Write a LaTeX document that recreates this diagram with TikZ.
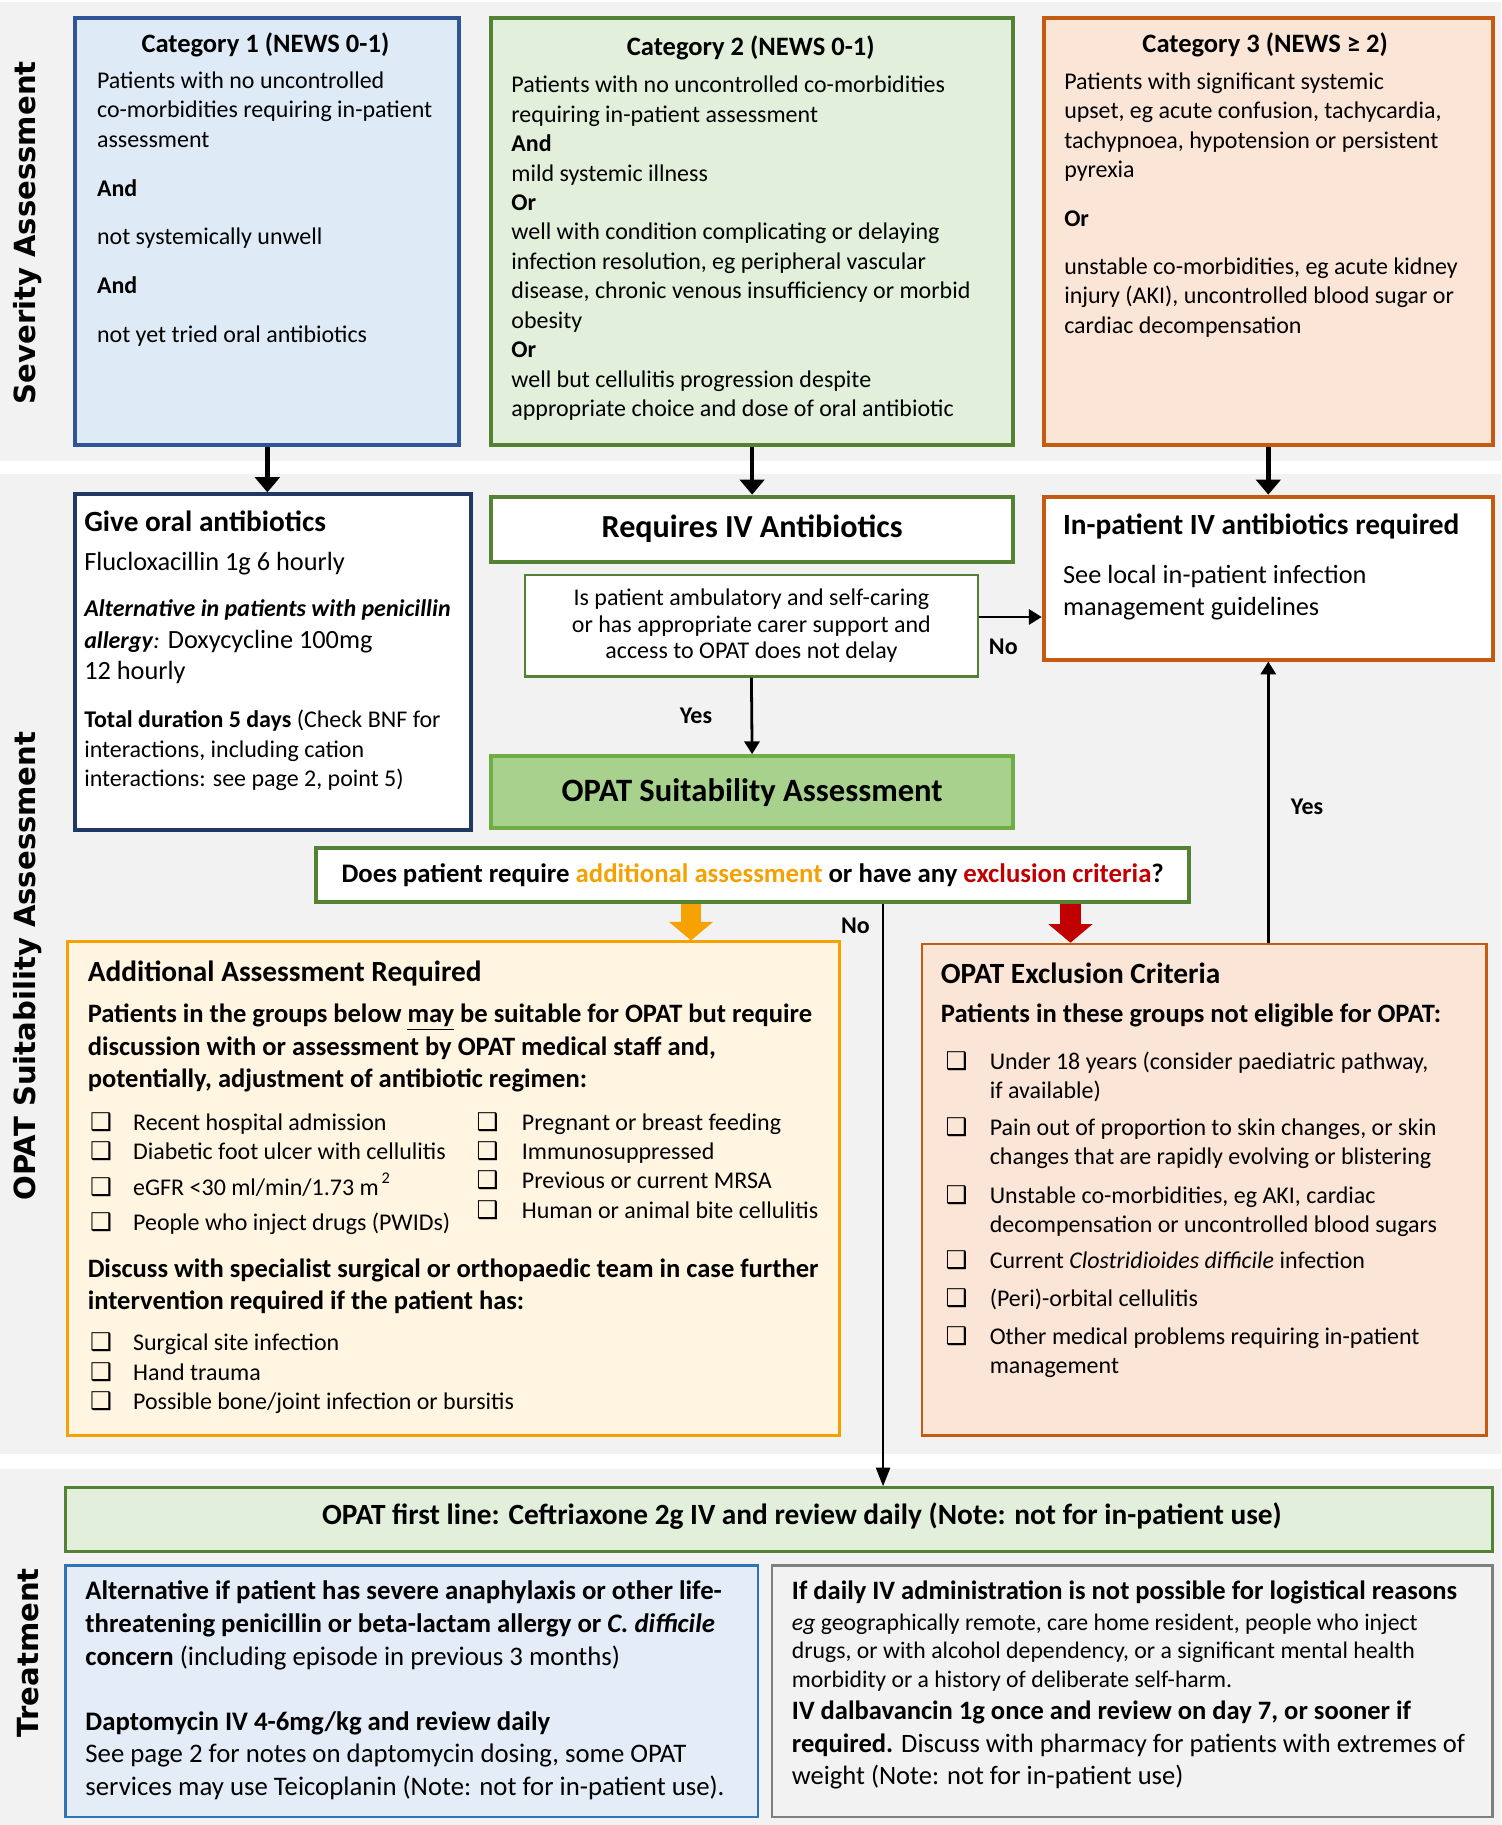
\documentclass[tikz,border=0pt]{standalone}
\usepackage{fontspec}
\setmainfont{Carlito}
\newfontfamily\sidefont{DejaVu Sans}
\newfontfamily\symfont{DejaVu Sans}
\usetikzlibrary{arrows.meta}

\definecolor{bggray}{HTML}{F2F2F2}
\definecolor{catblue}{HTML}{2F5597}
\definecolor{catbluefill}{HTML}{DEEBF7}
\definecolor{navy}{HTML}{1F3864}
\definecolor{leafgreen}{HTML}{548235}
\definecolor{leaffill}{HTML}{E2EFDA}
\definecolor{suitgreen}{HTML}{70AD47}
\definecolor{suitfill}{HTML}{A9D18E}
\definecolor{rust}{HTML}{C55A11}
\definecolor{rustfill}{HTML}{FBE5D6}
\definecolor{amber}{HTML}{F5A100}
\definecolor{amberfill}{HTML}{FFF5E1}
\definecolor{alertred}{HTML}{C00000}
\definecolor{skyblue}{HTML}{2E75B6}
\definecolor{skyfill}{HTML}{E4ECF7}
\definecolor{stone}{HTML}{7F7F7F}

\newcommand\chkbox{{\symfont\fontsize{10.5}{10.5}\selectfont ❑}}

\tikzset{
	box/.style = {rectangle, line width = 1.7pt, inner sep = 0pt, anchor = north west},
	thinbox/.style = {box, line width = 1.1pt},
	txt/.style = {inner sep = 0pt, align = left, anchor = north west},
	side/.style = {rotate = 90, font = \sidefont\bfseries\fontsize{12.5}{15}\selectfont},
	lbl/.style = {font = \bfseries\fontsize{10.3}{12}\selectfont},
	bigarrow/.style = {line width = 2pt, -{Triangle[width = 10.5pt, length = 6.5pt]}},
	midarrow/.style = {line width = 1.2pt, -{Triangle[width = 6.5pt, length = 5.5pt]}},
	thinarrow/.style = {line width = 1pt, -{Triangle[width = 6pt, length = 8pt]}},
	blockarrow/.style = {line width = 9pt, -{Triangle[width = 18.5pt, length = 8pt]}}
}

\begin{document}
\begin{tikzpicture}[x = 0.5pt, y = -0.5pt]
		\useasboundingbox (0,0) rectangle (1290,1568);
		\fill [white] (0,0) rectangle (1290,1568);
		\fill [bggray] (0,2) rectangle (1290,396);
		\fill [bggray] (0,407) rectangle (1290,1249);
		\fill [bggray] (0,1262) rectangle (1290,1568);
		
		\node [side] (sevlabel) at (24,200) {Severity Assessment};
		\node [side] (opatlabel) at (24,830) {OPAT Suitability Assessment};
		\node [side] (treatlabel) at (24,1420) {Treatment};
		
		\node [box, draw = catblue, fill = catbluefill, minimum width = 165pt, minimum height = 183.5pt] (cat1) at (63,14) {};
		\node [box, draw = leafgreen, fill = leaffill, minimum width = 224.5pt, minimum height = 183.5pt] (cat2) at (420,14) {};
		\node [box, draw = rust, fill = rustfill, minimum width = 193pt, minimum height = 183.5pt] (cat3) at (895,14) {};
		
		\node [font = \bfseries\fontsize{11.4}{13}\selectfont] (cat1title) at (228,39) {Category 1 (NEWS 0-1)};
		\node [txt, font = \fontsize{10.3}{12.75}\selectfont] (cat1text) at (83,61) {Patients with no uncontrolled\\ co-morbidities requiring in-patient\\ assessment\\[8.2pt] \textbf{And}\\[8pt] not systemically unwell\\[8.2pt] \textbf{And}\\[8.2pt] not yet tried oral antibiotics};
		
		\node [font = \bfseries\fontsize{11.4}{13}\selectfont] (cat2title) at (645,41) {Category 2 (NEWS 0-1)};
		\node [txt, font = \fontsize{10.3}{12.64}\selectfont] (cat2text) at (439,65) {Patients with no uncontrolled co-morbidities\\ requiring in-patient assessment\\ \textbf{And}\\ mild systemic illness\\ \textbf{Or}\\ well with condition complicating or delaying\\ infection resolution, eg peripheral vascular\\ disease, chronic venous insufficiency or morbid\\ obesity\\ \textbf{Or}\\ well but cellulitis progression despite\\ appropriate choice and dose of oral antibiotic};
		
		\node [font = \bfseries\fontsize{11.4}{13}\selectfont] (cat3title) at (1087,39) {Category 3 (NEWS ≥ 2)};
		\node [txt, font = \fontsize{10.3}{12.65}\selectfont] (cat3text) at (914,62) {Patients with significant systemic\\ upset, eg acute confusion, tachycardia,\\ tachypnoea, hypotension or persistent\\ pyrexia\\[8.3pt] \textbf{Or}\\[8pt] unstable co-morbidities, eg acute kidney\\ injury (AKI), uncontrolled blood sugar or\\ cardiac decompensation};
		
		\node [box, draw = navy, fill = white, minimum width = 170pt, minimum height = 144pt] (oral) at (63,423) {};
		\node [txt, anchor = west, font = \bfseries\fontsize{12.6}{15}\selectfont] (oraltitle) at (72,448) {Give oral antibiotics};
		\node [txt, anchor = west, font = \fontsize{11.3}{13.5}\selectfont] (oraldrug) at (72,484) {Flucloxacillin 1g 6 hourly};
		\node [txt, font = \fontsize{11.3}{13.5}\selectfont] (oralalt) at (72,515) {{\fontsize{10.3}{13.5}\selectfont\bfseries\itshape Alternative in patients with penicillin}\\ {\fontsize{10.3}{13.5}\selectfont\textbf{\textit{allergy}}\textit{:}} Doxycycline 100mg\\ 12 hourly};
		\node [txt, font = \fontsize{10.3}{12.5}\selectfont] (oraltotal) at (72,610) {\textbf{Total duration 5 days} (Check BNF for\\ interactions, including cation\\ interactions: see page 2, point 5)};
		
		\node [box, draw = leafgreen, fill = white, font = \bfseries\fontsize{13.8}{16}\selectfont, minimum width = 224.5pt, minimum height = 28pt] (req) at (420,425) {Requires IV Antibiotics};
		\node [thinbox, draw = leafgreen, fill = white, align = center, font = \fontsize{10.3}{11.5}\selectfont, minimum width = 194.5pt, minimum height = 43.5pt] (quest) at (450,493) {Is patient ambulatory and self-caring\\ or has appropriate carer support and\\ access to OPAT does not delay};
		\node [box, draw = suitgreen, fill = suitfill, font = \bfseries\fontsize{14}{16}\selectfont, minimum width = 224.5pt, minimum height = 31pt] (suit) at (420,648) {OPAT Suitability Assessment};
		
		\node [box, draw = rust, fill = white, minimum width = 193pt, minimum height = 70pt] (inpat) at (895,425) {};
		\node [txt, anchor = west, font = \bfseries\fontsize{12.6}{15}\selectfont] (inpattitle) at (913,452) {In-patient IV antibiotics required};
		\node [txt, font = \fontsize{11.3}{14}\selectfont] (inpattext) at (913,485) {See local in-patient infection\\ management guidelines};
		
		\node [box, draw = leafgreen, fill = white, font = \bfseries\fontsize{11.5}{14}\selectfont, minimum width = 375pt, minimum height = 23pt] (does) at (270,727) {Does patient require \textcolor{amber}{additional assessment} or have any \textcolor{alertred}{exclusion criteria}?};
		
		\node [thinbox, draw = amber, fill = amberfill, minimum width = 331.5pt, minimum height = 212pt] (addl) at (57,808) {};
		\node [txt, anchor = west, font = \bfseries\fontsize{12.6}{15}\selectfont] (addltitle) at (75,836) {Additional Assessment Required};
		\node [txt, font = \bfseries\fontsize{11.4}{14}\selectfont] (addlintro) at (75,862) {Patients in the groups below \underline{may} be suitable for OPAT but require\\ discussion with or assessment by OPAT medical staff and,\\ potentially, adjustment of antibiotic regimen:};
		\node [txt, font = \fontsize{10.3}{12.5}\selectfont] (addlleft) at (77,953) {\begin{tabular}{@{}p{18.5pt}@{}l@{}}
				\chkbox & Recent hospital admission\\
				\chkbox & Diabetic foot ulcer with cellulitis\\[2pt]
				\chkbox & eGFR <30 ml/min/1.73 m\raisebox{1.1ex}{\fontsize{7}{7}\selectfont\,2}\\[2.5pt]
				\chkbox & People who inject drugs (PWIDs)
			\end{tabular}};
		\node [txt, font = \fontsize{10.3}{12.5}\selectfont] (addlright) at (409,953) {\begin{tabular}{@{}p{19.5pt}@{}l@{}}
				\chkbox & Pregnant or breast feeding\\
				\chkbox & Immunosuppressed\\
				\chkbox & Previous or current MRSA\\[0.5pt]
				\chkbox & Human or animal bite cellulitis
			\end{tabular}};
		\node [txt, font = \bfseries\fontsize{11.4}{14}\selectfont] (addlsurg) at (75,1081) {Discuss with specialist surgical or orthopaedic team in case further\\ intervention required if the patient has:};
		\node [txt, font = \fontsize{10.3}{12.75}\selectfont] (addlsurglist) at (77,1142) {\begin{tabular}{@{}p{18.5pt}@{}l@{}}
				\chkbox & Surgical site infection\\
				\chkbox & Hand trauma\\
				\chkbox & Possible bone/joint infection or bursitis
			\end{tabular}};
		
		\node [thinbox, draw = rust, fill = rustfill, minimum width = 242.5pt, minimum height = 211pt] (excl) at (791,810) {};
		\node [txt, anchor = west, font = \bfseries\fontsize{12.6}{15}\selectfont] (excltitle) at (808,836) {OPAT Exclusion Criteria};
		\node [txt, anchor = west, font = \bfseries\fontsize{11.4}{14}\selectfont] (exclintro) at (808,872) {Patients in these groups not eligible for OPAT:};
		\node [txt, font = \fontsize{10.3}{12.5}\selectfont] (excllist) at (812,901) {\begin{tabular}{@{}p{19pt}@{}l@{}}
				\chkbox & Under 18 years (consider paediatric pathway,\\
				& if available)\\[3.5pt]
				\chkbox & Pain out of proportion to skin changes, or skin\\
				& changes that are rapidly evolving or blistering\\[4pt]
				\chkbox & Unstable co-morbidities, eg AKI, cardiac\\
				& decompensation or uncontrolled blood sugars\\[3pt]
				\chkbox & Current \textit{Clostridioides difficile} infection\\[4pt]
				\chkbox & (Peri)-orbital cellulitis\\[3.5pt]
				\chkbox & Other medical problems requiring in-patient\\
				& management
			\end{tabular}};
		
		\node [thinbox, draw = leafgreen, fill = leaffill, minimum width = 613pt, minimum height = 27.5pt] (first) at (55,1277) {};
		\node [font = \bfseries\fontsize{12.6}{15}\selectfont] (firsttext) at (689,1303) {OPAT first line: Ceftriaxone 2g IV and review daily (Note: not for in-patient use)};
		
		\node [thinbox, draw = skyblue, fill = skyfill, minimum width = 297.5pt, minimum height = 108pt] (alt) at (55,1344) {};
		\node [txt, font = \fontsize{11.5}{14}\selectfont] (alttext) at (73,1358) {\textbf{Alternative if patient has severe anaphylaxis or other life-}\\ \textbf{threatening penicillin or beta-lactam allergy or \textit{C. difficile}}\\ \textbf{concern} (including episode in previous 3 months)\\[14pt] \textbf{Daptomycin IV 4-6mg/kg and review daily}\\ See page 2 for notes on daptomycin dosing, some OPAT\\ services may use Teicoplanin (Note: not for in-patient use).};
		
		\node [thinbox, draw = stone, fill = bggray, minimum width = 309.5pt, minimum height = 108pt] (dalba) at (662,1344) {};
		\node [txt, anchor = west, font = \bfseries\fontsize{11.4}{14}\selectfont] (dalbahead) at (680,1368) {If daily IV administration is not possible for logistical reasons};
		\node [txt, font = \fontsize{10.2}{12.25}\selectfont] (dalbaeg) at (680,1386) {\textit{eg} geographically remote, care home resident, people who inject\\ drugs, or with alcohol dependency, or a significant mental health\\ morbidity or a history of deliberate self-harm.};
		\node [txt, font = \fontsize{11.4}{14}\selectfont] (dalbadrug) at (680,1461) {\textbf{IV dalbavancin 1g once and review on day 7, or sooner if}\\ \textbf{required.} Discuss with pharmacy for patients with extremes of\\ weight (Note: not for in-patient use)};
		
		\draw [bigarrow] (cat1.south) -- (cat1.south |- oral.north);
		\draw [bigarrow] (cat2.south) -- (req.north);
		\draw [bigarrow] (cat3.south) -- (inpat.north);
		
		\draw [midarrow] ([yshift = 3.75pt]quest.east) -- ([yshift = 3.75pt]quest.east -| inpat.west);
		\node [lbl] (nolabel1) at (862,556) {No};
		\draw [midarrow] (quest.south) -- (suit.north);
		\node [lbl] (yeslabel1) at (598,615) {Yes};
		
		\draw [blockarrow, amber] ([xshift = -26.5pt]does.south) -- ([xshift = -26.5pt]does.south |- addl.north);
		\draw [blockarrow, alertred] ([xshift = 136.5pt]does.south) -- ([xshift = 136.5pt]does.south |- excl.north);
		\draw [thinarrow] ([xshift = 56pt]does.south) -- ([xshift = 56pt]does.south |- first.north);
		\node [lbl] (nolabel2) at (735,795) {No};
		
		\draw [midarrow] (inpat.south |- excl.north) -- (inpat.south);
		\node [lbl] (yeslabel2) at (1123,693) {Yes};
		
\end{tikzpicture}
\end{document}
